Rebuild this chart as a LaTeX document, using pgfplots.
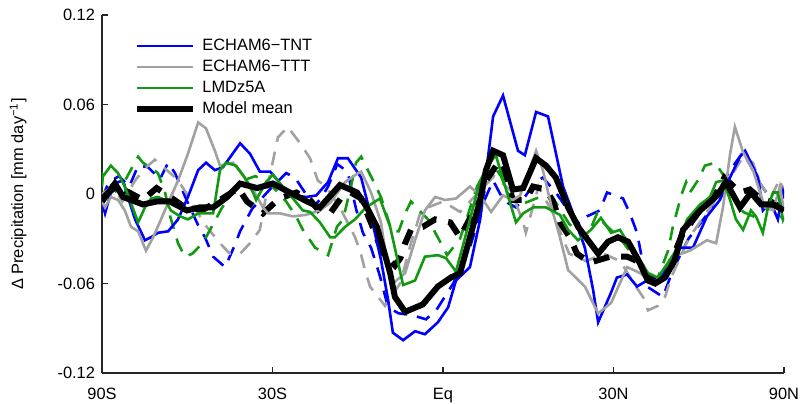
\documentclass[border=0pt]{standalone}
\usepackage{fontspec}
\setmainfont{Liberation Sans}
\usepackage{pgfplots}
\pgfplotsset{compat=1.18}
\newcommand\chartfont{\fontsize{8.2}{10}\selectfont}
\definecolor{cblue}{rgb}{0,0,1}
\definecolor{cgray}{rgb}{0.63,0.63,0.63}
\definecolor{cgreen}{rgb}{0.07,0.6,0.07}
\definecolor{caxis}{rgb}{0.15,0.15,0.15}
\begin{document}
\begin{tikzpicture}
\useasboundingbox (0,0) rectangle (401.5pt,201.5pt);
\begin{axis}[
  at={(51pt,15pt)}, anchor=south west,
  width=341pt, height=179pt, scale only axis,
  xmin=-1, xmax=1, ymin=-0.12, ymax=0.12,
  axis x line*=bottom, axis y line*=left,
  axis line style={-, caxis, line width=0.7pt},
  tick style={caxis, line width=0.7pt},
  tick align=inside, major tick length=3.2pt,
  xtick={-1,-0.5,0,0.5,1},
  xticklabels={90S,30S,Eq,30N,90N},
  ytick={-0.12,-0.06,0,0.06,0.12},
  yticklabels={-0.12,-0.06,0,0.06,0.12},
  tick label style={font=\chartfont},
  xticklabel style={yshift=-4pt},
  ylabel={Δ Precipitation [mm day\textsuperscript{−1}]},
  ylabel style={font=\chartfont, at={(axis description cs:-0.123,0.5)}, anchor=center},
  legend style={draw=none, fill=none, at={(axis description cs:0.047,0.944)}, anchor=north west,
    font=\chartfont, inner sep=0pt, column sep=1.5pt,
    nodes={text height=6pt, text depth=1.5pt, inner sep=1.5pt}},
  legend cell align=left,
  legend image code/.code={\draw[#1] (0pt,0pt) -- (28pt,0pt);},
  clip=true,
]
% dashed (second experiment) series
\addplot[cblue, line width=1.3pt, dash pattern=on 7pt off 5pt, forget plot] coordinates {
(-1.0,-0.003) (-0.98,0.008) (-0.95,0.012) (-0.92,0.005) (-0.894,0.019) (-0.865,0.018) (-0.83,0.010) (-0.806,0.021) (-0.786,0.014) (-0.75,-0.005) (-0.718,-0.021) (-0.698,-0.029) (-0.674,-0.042) (-0.639,-0.049) (-0.610,-0.034) (-0.595,-0.025) (-0.56,-0.010) (-0.50,0.005) (-0.46,0.014) (-0.434,0.011) (-0.405,0.001) (-0.38,-0.008) (-0.361,-0.004) (-0.337,0.005) (-0.31,0.020) (-0.28,0.015) (-0.255,-0.010) (-0.235,-0.026) (-0.211,-0.036) (-0.185,-0.055) (-0.161,-0.076) (-0.13,-0.080) (-0.094,-0.081) (-0.050,-0.084) (-0.02,-0.078) (0.03,-0.060) (0.08,-0.035) (0.12,-0.005) (0.147,0.009) (0.170,-0.001) (0.19,-0.006) (0.214,-0.009) (0.243,-0.001) (0.27,0.008) (0.293,0.011) (0.331,0.001) (0.37,-0.012) (0.40,-0.020) (0.422,-0.015) (0.460,-0.011) (0.481,0.001) (0.528,-0.003) (0.548,-0.013) (0.569,-0.026) (0.585,-0.045) (0.598,-0.062) (0.645,-0.069) (0.674,-0.051) (0.72,-0.030) (0.78,-0.012) (0.81,0.003) (0.842,0.016) (0.880,0.028) (0.909,0.016) (0.930,0.007) (0.96,-0.003) (0.98,-0.008) (1.0,-0.012)
};
\addplot[cgray, line width=1.3pt, dash pattern=on 7pt off 5pt, forget plot] coordinates {
(-1.0,0.000) (-0.97,0.005) (-0.94,-0.005) (-0.90,0.010) (-0.87,0.018) (-0.845,0.023) (-0.815,0.017) (-0.79,0.012) (-0.768,0.006) (-0.754,0.001) (-0.70,-0.020) (-0.654,-0.033) (-0.625,-0.040) (-0.595,-0.040) (-0.566,-0.033) (-0.537,-0.024) (-0.51,0.010) (-0.484,0.038) (-0.455,0.045) (-0.419,0.034) (-0.390,0.024) (-0.367,0.009) (-0.343,0.005) (-0.30,-0.010) (-0.258,-0.029) (-0.243,-0.038) (-0.229,-0.051) (-0.214,-0.062) (-0.17,-0.075) (-0.126,-0.060) (-0.109,-0.046) (-0.094,-0.033) (-0.067,-0.013) (-0.044,-0.009) (0.0,-0.005) (0.05,-0.012) (0.10,0.000) (0.15,0.012) (0.20,0.002) (0.235,-0.019) (0.243,-0.026) (0.28,0.005) (0.32,-0.012) (0.37,-0.040) (0.42,-0.045) (0.47,-0.040) (0.52,-0.045) (0.56,-0.060) (0.592,-0.071) (0.601,-0.078) (0.63,-0.075) (0.651,-0.069) (0.669,-0.056) (0.72,-0.030) (0.78,-0.010) (0.84,0.010) (0.88,0.025) (0.909,0.021) (0.93,0.007) (0.96,-0.003) (0.988,0.010) (1.0,0.000)
};
\addplot[cgreen, line width=1.3pt, dash pattern=on 7pt off 5pt, forget plot] coordinates {
(-1.0,0.005) (-0.997,0.013) (-0.982,0.009) (-0.96,0.002) (-0.93,0.010) (-0.909,0.019) (-0.894,0.025) (-0.880,0.021) (-0.86,0.018) (-0.836,0.014) (-0.815,0.001) (-0.80,-0.015) (-0.777,-0.033) (-0.757,-0.042) (-0.735,-0.040) (-0.718,-0.036) (-0.695,-0.029) (-0.65,-0.010) (-0.60,0.008) (-0.55,0.012) (-0.50,0.005) (-0.46,-0.005) (-0.431,-0.015) (-0.411,-0.024) (-0.375,-0.036) (-0.337,-0.041) (-0.311,-0.022) (-0.293,-0.017) (-0.27,0.005) (-0.255,0.021) (-0.240,0.025) (-0.205,0.009) (-0.182,-0.002) (-0.15,-0.025) (-0.13,-0.025) (-0.111,-0.013) (-0.094,-0.005) (-0.065,-0.012) (-0.044,-0.017) (-0.006,-0.033) (0.012,-0.041) (0.05,-0.030) (0.10,0.005) (0.14,0.022) (0.17,0.012) (0.20,-0.005) (0.24,-0.006) (0.284,-0.002) (0.323,-0.003) (0.37,-0.020) (0.42,-0.030) (0.452,-0.013) (0.469,-0.019) (0.52,-0.030) (0.57,-0.045) (0.60,-0.055) (0.630,-0.056) (0.660,-0.038) (0.674,-0.022) (0.70,0.000) (0.713,0.008) (0.724,0.001) (0.75,0.010) (0.768,0.019) (0.798,0.021) (0.83,0.010) (0.86,-0.005) (0.88,-0.012) (0.91,-0.015) (0.94,-0.010) (0.97,-0.008) (1.0,-0.018)
};
\addplot[black, line width=3pt, dash pattern=on 8pt off 6pt, forget plot] coordinates {
(-1.0,-0.003) (-0.96,0.005) (-0.92,0.001) (-0.88,-0.004) (-0.84,0.004) (-0.80,-0.002) (-0.75,-0.010) (-0.70,-0.010) (-0.66,-0.005) (-0.60,0.004) (-0.575,-0.005) (-0.528,-0.013) (-0.48,-0.003) (-0.43,0.001) (-0.39,-0.004) (-0.361,-0.012) (-0.331,-0.013) (-0.30,-0.003) (-0.27,0.001) (-0.24,-0.003) (-0.21,-0.020) (-0.176,-0.040) (-0.141,-0.048) (-0.125,-0.043) (-0.111,-0.033) (-0.094,-0.024) (-0.059,-0.022) (-0.023,-0.017) (0.021,-0.019) (0.050,-0.029) (0.082,-0.015) (0.109,-0.004) (0.126,0.009) (0.147,0.016) (0.165,0.022) (0.196,0.003) (0.205,-0.004) (0.243,-0.004) (0.264,0.005) (0.302,0.003) (0.323,-0.005) (0.343,-0.019) (0.372,-0.029) (0.393,-0.040) (0.431,-0.046) (0.490,-0.042) (0.540,-0.042) (0.57,-0.045) (0.60,-0.055) (0.63,-0.058) (0.66,-0.050) (0.70,-0.028) (0.75,-0.012) (0.80,0.000) (0.825,0.011) (0.871,0.001) (0.90,0.003) (0.93,-0.003) (0.96,-0.005) (1.0,-0.010)
};
% solid series
\addplot[cblue, line width=1.3pt] coordinates {
(-1.0,-0.005) (-0.991,-0.013) (-0.974,0.001) (-0.953,0.008) (-0.938,0.009) (-0.924,-0.002) (-0.903,-0.017) (-0.874,-0.031) (-0.856,-0.029) (-0.836,-0.026) (-0.806,-0.025) (-0.777,-0.017) (-0.748,-0.002) (-0.718,0.016) (-0.695,0.021) (-0.669,0.016) (-0.645,0.018) (-0.595,0.034) (-0.566,0.027) (-0.537,0.015) (-0.507,0.015) (-0.484,0.009) (-0.460,0.001) (-0.431,-0.001) (-0.402,-0.002) (-0.372,-0.001) (-0.337,0.008) (-0.308,0.024) (-0.279,0.024) (-0.264,0.019) (-0.240,0.011) (-0.211,-0.015) (-0.182,-0.044) (-0.161,-0.071) (-0.147,-0.093) (-0.117,-0.098) (-0.082,-0.092) (-0.053,-0.094) (-0.015,-0.086) (0.015,-0.076) (0.038,-0.058) (0.079,-0.049) (0.109,-0.017) (0.147,0.052) (0.176,0.066) (0.220,0.029) (0.240,0.026) (0.273,0.055) (0.308,0.052) (0.352,0.005) (0.375,-0.009) (0.416,-0.036) (0.440,-0.064) (0.455,-0.086) (0.493,-0.066) (0.510,-0.056) (0.540,-0.054) (0.569,-0.062) (0.598,-0.058) (0.628,-0.058) (0.657,-0.051) (0.695,-0.036) (0.733,-0.036) (0.774,-0.015) (0.812,-0.004) (0.833,0.007) (0.871,0.025) (0.886,0.029) (0.903,0.021) (0.924,0.011) (0.938,-0.011) (0.960,-0.005) (0.982,-0.017) (0.997,0.001) (1.0,-0.003)
};
\addlegendentry{ECHAM6−TNT}
\addplot[cgray, line width=1.3pt] coordinates {
(-1.0,-0.005) (-0.991,-0.009) (-0.974,-0.002) (-0.953,-0.004) (-0.933,-0.011) (-0.915,-0.022) (-0.894,-0.025) (-0.871,-0.038) (-0.850,-0.029) (-0.827,-0.017) (-0.806,-0.006) (-0.777,0.009) (-0.748,0.027) (-0.718,0.048) (-0.695,0.044) (-0.669,0.029) (-0.654,0.019) (-0.616,0.021) (-0.592,0.014) (-0.557,0.003) (-0.528,-0.009) (-0.513,-0.013) (-0.478,-0.013) (-0.440,-0.015) (-0.402,-0.014) (-0.361,-0.011) (-0.331,-0.006) (-0.287,0.008) (-0.249,0.014) (-0.240,0.015) (-0.211,0.001) (-0.182,-0.019) (-0.167,-0.042) (-0.147,-0.060) (-0.111,-0.053) (-0.082,-0.031) (-0.053,-0.011) (-0.023,-0.002) (0.006,-0.004) (0.038,-0.003) (0.079,0.005) (0.109,-0.001) (0.141,-0.012) (0.176,-0.001) (0.205,-0.004) (0.226,-0.001) (0.273,0.029) (0.293,0.016) (0.323,-0.013) (0.343,-0.029) (0.367,-0.051) (0.416,-0.062) (0.455,-0.080) (0.493,-0.073) (0.540,-0.049) (0.578,-0.053) (0.62,-0.060) (0.65,-0.055) (0.674,-0.042) (0.724,-0.038) (0.774,-0.031) (0.801,-0.033) (0.821,-0.009) (0.842,0.027) (0.856,0.045) (0.880,0.028) (0.909,0.016) (0.930,0.001) (0.944,-0.009) (0.968,-0.011) (0.988,0.005) (1.0,-0.011)
};
\addlegendentry{ECHAM6−TTT}
\addplot[cgreen, line width=1.3pt] coordinates {
(-1.0,0.011) (-0.974,0.019) (-0.953,0.014) (-0.933,0.005) (-0.915,-0.006) (-0.894,-0.019) (-0.874,-0.009) (-0.856,-0.003) (-0.836,-0.002) (-0.815,-0.004) (-0.798,-0.011) (-0.771,-0.015) (-0.748,-0.017) (-0.718,-0.013) (-0.698,-0.013) (-0.674,-0.013) (-0.654,0.016) (-0.636,0.021) (-0.607,0.019) (-0.581,0.011) (-0.557,0.001) (-0.548,-0.004) (-0.519,0.008) (-0.499,0.013) (-0.478,0.007) (-0.440,-0.003) (-0.411,-0.011) (-0.390,-0.012) (-0.361,-0.019) (-0.331,-0.029) (-0.317,-0.029) (-0.287,-0.022) (-0.258,-0.017) (-0.226,-0.009) (-0.185,-0.003) (-0.155,-0.022) (-0.117,-0.061) (-0.082,-0.058) (-0.053,-0.042) (-0.015,-0.041) (0.009,-0.043) (0.038,-0.052) (0.079,-0.017) (0.109,0.009) (0.138,0.021) (0.155,0.026) (0.185,0.003) (0.214,-0.019) (0.235,-0.013) (0.264,-0.009) (0.302,-0.009) (0.343,-0.014) (0.367,-0.024) (0.396,-0.031) (0.434,-0.024) (0.463,-0.016) (0.493,-0.026) (0.519,-0.024) (0.543,-0.033) (0.572,-0.042) (0.601,-0.053) (0.630,-0.056) (0.660,-0.046) (0.683,-0.038) (0.716,-0.017) (0.754,-0.007) (0.783,-0.002) (0.801,0.008) (0.821,0.009) (0.842,-0.004) (0.859,-0.017) (0.880,-0.024) (0.903,-0.011) (0.918,-0.015) (0.938,-0.026) (0.953,-0.009) (0.968,0.001) (0.982,0.001) (0.997,-0.017) (1.0,-0.015)
};
\addlegendentry{LMDz5A}
\addplot[black, line width=3pt] coordinates {
(-1.000,-0.005) (-0.962,0.007) (-0.938,-0.002) (-0.880,-0.007) (-0.839,-0.005) (-0.801,-0.005) (-0.751,-0.011) (-0.713,-0.009) (-0.674,-0.009) (-0.633,-0.002) (-0.595,0.007) (-0.545,0.004) (-0.499,0.007) (-0.449,0.001) (-0.399,-0.005) (-0.361,-0.009) (-0.302,0.006) (-0.252,0.001) (-0.223,-0.009) (-0.194,-0.022) (-0.176,-0.036) (-0.155,-0.053) (-0.141,-0.069) (-0.111,-0.079) (-0.059,-0.074) (-0.015,-0.062) (0.023,-0.056) (0.050,-0.053) (0.079,-0.029) (0.109,-0.004) (0.126,0.016) (0.147,0.029) (0.176,0.026) (0.205,0.003) (0.235,0.004) (0.273,0.024) (0.302,0.019) (0.331,0.011) (0.367,-0.009) (0.396,-0.022) (0.455,-0.040) (0.484,-0.032) (0.513,-0.029) (0.543,-0.032) (0.572,-0.044) (0.601,-0.058) (0.622,-0.060) (0.651,-0.056) (0.680,-0.044) (0.704,-0.024) (0.754,-0.011) (0.804,-0.001) (0.830,0.008) (0.871,-0.009) (0.903,0.001) (0.933,-0.007) (0.968,-0.007) (1.0,-0.011)
};
\addlegendentry{Model mean}
\end{axis}
\end{tikzpicture}
\end{document}
